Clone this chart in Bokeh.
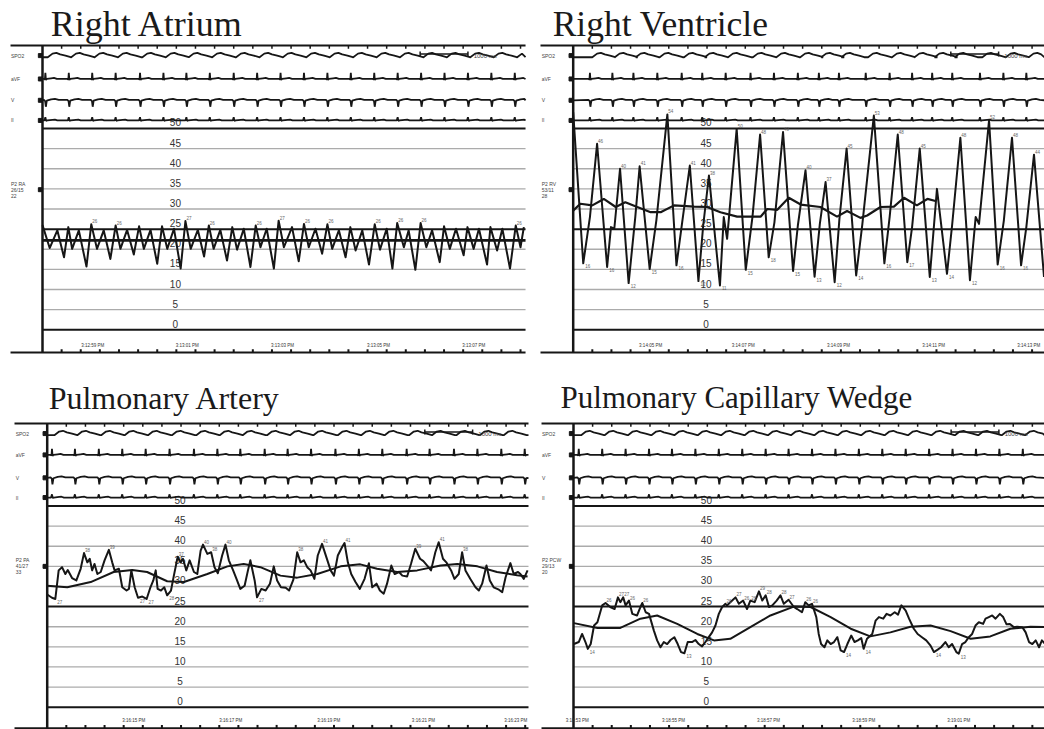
import numpy as np
from bokeh.plotting import figure
from bokeh.layouts import column, row
from bokeh.models import Range1d, Label
from bokeh.core.properties import value
from bokeh.embed import file_html
from bokeh.resources import INLINE

# ------------------------------------------------------------------ data
titles = ["Right Atrium", "Right Ventricle", "Pulmonary Artery", "Pulmonary Capillary Wedge"]
channel_names = ["SPO2", "aVF", "V", "II"]
pressure_labels = [["P2 RA", "26/15", "22"], ["P2 RV", "53/11", "28"],
                   ["P2 PA", "41/27", "33"], ["P2 PCW", "29/13", "20"]]
scale_ticks = [0, 5, 10, 15, 20, 25, 30, 35, 40, 45, 50]
bold_ticks = [0, 25, 50]

time_labels = [
    ["3:12:59 PM", "3:13:01 PM", "3:13:03 PM", "3:13:05 PM", "3:13:07 PM"],
    ["3:14:05 PM", "3:14:07 PM", "3:14:09 PM", "3:14:11 PM", "3:14:13 PM"],
    ["3:16:15 PM", "3:16:17 PM", "3:16:19 PM", "3:16:21 PM", "3:16:23 PM"],
    ["3:18:53 PM", "3:18:55 PM", "3:18:57 PM", "3:18:59 PM", "3:19:01 PM"],
]
time_label_t = [
    [1.05, 3.03, 5.02, 7.03, 9.02],
    [1.62, 3.56, 5.55, 7.54, 9.53],
    [1.81, 3.84, 5.89, 7.87, 9.80],
    [0.08, 2.09, 4.08, 6.07, 8.06],
]

# beat times (s) read from the aVF / II spikes
beats_ra = [0.06, 0.55, 1.04, 1.53, 2.04, 2.53, 3.01, 3.50, 4.00, 4.49, 4.98, 5.47,
            5.96, 6.45, 6.94, 7.43, 7.92, 8.41, 8.90, 9.39, 9.88]
beats_rv = [0.35, 0.82, 1.26, 1.76, 2.27, 2.70, 3.19, 3.71, 4.20, 4.70, 5.14, 5.56,
            6.12, 6.62, 7.09, 7.51, 7.93, 8.51, 9.00, 9.48]
beats_pa = [0.10, 0.58, 1.08, 1.57, 2.06, 2.56, 3.07, 3.56, 4.04, 4.55, 5.03, 5.52,
            6.03, 6.52, 7.01, 7.52, 8.00, 8.51, 9.00, 9.50, 9.99]
beats_pcw = [0.11, 0.60, 1.09, 1.58, 2.06, 2.55, 3.04, 3.53, 4.02, 4.50, 4.99, 5.48,
             5.97, 6.46, 6.95, 7.44, 7.93, 8.42, 8.91, 9.40]

# one beat of each monitor lead (offset s, deflection)
spo2_dt = [0.05, 0.15, 0.23, 0.31, 0.42, 0.53]
spo2_a = [-0.4, 0.5, 0.7, 0.3, 0.0, -0.4]
avf_dt = [-0.03, -0.01, 0.0, 0.012, 0.03, 0.12, 0.18, 0.24]
avf_a = [0.0, -0.15, 1.5, -0.25, 0.0, 0.15, 0.25, 0.0]
v_dt = [-0.03, -0.005, 0.01, 0.03, 0.12, 0.20, 0.28]
v_a = [0.1, -0.2, -1.6, -0.1, 0.25, 0.35, 0.1]
ii_dt = [-0.02, 0.0, 0.015, 0.04, 0.15, 0.20, 0.25]
ii_a = [0.0, 0.8, -0.1, 0.0, 0.15, 0.2, 0.0]

# Right atrium pressure (s, mmHg)
ra_t = [0.00, 0.15, 0.31, 0.45, 0.54, 0.62, 0.76, 0.92, 1.02, 1.14, 1.28, 1.42, 1.53, 1.63,
        1.77, 1.91, 2.02, 2.12, 2.26, 2.40, 2.50, 2.61, 2.75, 2.89, 2.99, 3.10, 3.25, 3.38,
        3.48, 3.58, 3.72, 3.86, 3.97, 4.07, 4.21, 4.35, 4.46, 4.56, 4.69, 4.84, 4.94, 5.05,
        5.22, 5.36, 5.47, 5.57, 5.71, 5.85, 5.96, 6.06, 6.20, 6.34, 6.44, 6.55, 6.69, 6.83,
        6.95, 7.06, 7.20, 7.32, 7.42, 7.56, 7.66, 7.80, 7.91, 8.03, 8.15, 8.31, 8.40, 8.52,
        8.65, 8.81, 8.89, 9.02, 9.13, 9.30, 9.37, 9.51, 9.62, 9.78, 9.90, 10.00, 10.07]
ra_p = [26.0, 20.3, 24.7, 18.0, 25.5, 20.1, 24.7, 15.7, 26.2, 20.1, 24.7, 17.6, 25.9, 20.1,
        24.8, 18.7, 25.7, 20.1, 24.8, 16.4, 25.7, 20.1, 25.1, 15.2, 27.0, 20.1, 24.8, 18.2,
        25.9, 20.1, 24.8, 17.2, 25.5, 19.9, 25.1, 15.6, 25.9, 20.5, 25.1, 15.2, 27.1, 20.5,
        25.5, 17.0, 26.3, 20.5, 25.1, 18.9, 26.2, 20.1, 24.7, 18.0, 25.5, 19.7, 24.7, 16.2,
        26.2, 19.9, 25.1, 15.2, 26.5, 20.5, 24.7, 14.9, 26.5, 20.5, 24.7, 16.8, 25.7, 20.1,
        25.1, 18.5, 25.5, 20.1, 25.1, 16.2, 25.5, 19.7, 25.1, 15.2, 25.9, 20.5, 25.5]
ra_mean_t = [0.0, 10.105]
ra_mean_p = [22.2, 22.2]

# Right ventricle pressure
rv_t = [0.00, 0.21, 0.35, 0.50, 0.71, 0.79, 0.86, 0.98, 1.16, 1.30, 1.39, 1.60, 1.74, 1.97,
        2.16, 2.28, 2.44, 2.62, 2.72, 2.84, 3.07, 3.15, 3.22, 3.42, 3.61, 3.75, 3.91, 4.09,
        4.21, 4.39, 4.60, 4.70, 4.86, 5.05, 5.16, 5.28, 5.47, 5.57, 5.72, 5.92, 6.05, 6.29,
        6.51, 6.62, 6.79, 6.99, 7.09, 7.25, 7.46, 7.61, 7.82, 7.93, 8.10, 8.30, 8.42, 8.49,
        8.70, 8.88, 9.01, 9.18, 9.37, 9.48, 9.64, 9.85]
rv_p = [54.0, 16.5, 28.0, 46.2, 15.6, 25.5, 25.1, 40.0, 11.6, 28.1, 40.6, 15.1, 27.2, 53.5,
        16.0, 26.7, 40.8, 12.1, 25.9, 38.3, 11.0, 28.0, 22.6, 49.9, 14.9, 28.0, 48.5, 18.0,
        26.7, 49.1, 14.6, 25.9, 39.6, 13.2, 26.3, 36.7, 11.8, 27.6, 45.0, 13.5, 26.3, 53.2,
        16.5, 28.0, 48.5, 16.8, 25.5, 45.0, 13.1, 35.0, 13.9, 26.3, 47.7, 12.3, 28.0, 26.3,
        52.0, 16.2, 27.2, 47.7, 16.0, 25.5, 43.5, 13.1]
rv_mean_t = [0.00, 0.15, 0.40, 0.64, 0.89, 1.09, 1.34, 1.62, 1.83, 2.11, 2.53, 2.80, 3.08,
             3.43, 3.92, 4.06, 4.27, 4.51, 4.76, 5.17, 5.52, 5.73, 6.01, 6.15, 6.43, 6.71,
             6.92, 7.19, 7.41, 7.58]
rv_mean_p = [29.6, 31.3, 30.9, 32.5, 30.5, 31.7, 30.5, 29.2, 29.2, 30.9, 30.6, 30.5, 29.2,
             28.1, 28.1, 30.0, 29.8, 32.8, 31.1, 30.5, 28.1, 29.5, 27.8, 28.4, 30.5, 30.6,
             32.8, 30.9, 32.5, 32.0]

# Pulmonary artery pressure
pa_t = [0.00, 0.10, 0.17, 0.24, 0.31, 0.38, 0.43, 0.52, 0.61, 0.70, 0.77, 0.84, 0.89, 0.94,
        0.99, 1.05, 1.12, 1.20, 1.29, 1.36, 1.41, 1.50, 1.57, 1.66, 1.71, 1.76, 1.83, 1.90,
        1.99, 2.08, 2.16, 2.22, 2.27, 2.31, 2.38, 2.45, 2.51, 2.59, 2.65, 2.73, 2.79, 2.84,
        2.91, 2.98, 3.07, 3.14, 3.21, 3.26, 3.35, 3.43, 3.50, 3.57, 3.66, 3.73, 3.80, 3.89,
        3.96, 4.04, 4.13, 4.20, 4.25, 4.34, 4.39, 4.48, 4.57, 4.66, 4.74, 4.81, 4.89, 4.99,
        5.06, 5.15, 5.23, 5.30, 5.37, 5.44, 5.51, 5.59, 5.66, 5.75, 5.84, 5.93, 6.00, 6.08,
        6.17, 6.22, 6.29, 6.36, 6.45, 6.54, 6.64, 6.73, 6.80, 6.89, 6.96, 7.04, 7.11, 7.20,
        7.27, 7.36, 7.43, 7.53, 7.61, 7.70, 7.80, 7.87, 7.95, 8.03, 8.12, 8.19, 8.28, 8.35,
        8.45, 8.52, 8.61, 8.68, 8.75, 8.85, 8.96, 9.03, 9.10, 9.19, 9.26, 9.34, 9.45, 9.52,
        9.59, 9.69, 9.76, 9.85, 9.90, 9.97, 10.05]
pa_p = [28.0, 27.2, 26.9, 34.0, 34.8, 33.1, 34.1, 32.1, 31.5, 34.4, 38.3, 36.0, 36.9, 34.0,
        35.6, 33.1, 33.6, 36.5, 39.1, 36.0, 34.0, 34.4, 29.8, 29.0, 29.4, 34.0, 29.8, 27.2,
        27.5, 26.9, 29.8, 31.5, 34.0, 29.4, 29.0, 29.8, 27.8, 29.0, 32.7, 37.4, 36.0, 36.9,
        34.0, 36.5, 33.6, 33.1, 38.9, 40.4, 38.1, 38.5, 34.8, 33.3, 37.7, 40.4, 36.5, 34.0,
        31.9, 29.4, 30.2, 34.0, 36.5, 31.5, 27.3, 29.4, 29.0, 30.7, 35.0, 31.5, 29.8, 29.7,
        29.0, 31.7, 38.5, 36.0, 36.5, 34.8, 34.0, 31.9, 37.7, 40.6, 37.3, 34.0, 32.7, 37.7,
        39.8, 40.8, 36.0, 33.1, 31.1, 29.4, 31.9, 35.8, 29.8, 30.7, 29.0, 28.2, 30.7, 35.2,
        33.1, 33.6, 32.7, 32.5, 35.6, 39.4, 36.9, 36.3, 35.2, 34.0, 38.5, 41.0, 36.9, 36.0,
        34.0, 31.9, 33.1, 38.5, 34.0, 31.9, 29.8, 29.0, 30.7, 35.2, 31.5, 29.8, 29.2, 28.6,
        32.3, 35.8, 33.1, 33.6, 33.1, 31.9, 34.0]
pa_mean_t = [0.00, 0.42, 0.91, 1.39, 1.78, 2.09, 2.51, 2.86, 3.35, 3.77, 4.11, 4.46, 4.88,
             5.23, 5.65, 6.14, 6.55, 6.90, 7.32, 7.74, 8.23, 8.58, 9.00, 9.41, 9.83, 10.05]
pa_mean_p = [30.2, 29.8, 31.1, 33.6, 34.1, 33.6, 31.3, 31.1, 33.1, 35.0, 35.6, 34.8, 32.7,
             32.2, 33.1, 35.0, 35.5, 34.4, 33.6, 34.0, 35.2, 35.6, 35.0, 33.6, 32.8, 32.5]

# Pulmonary capillary wedge pressure
pcw_t = [0.01, 0.11, 0.18, 0.25, 0.30, 0.36, 0.43, 0.50, 0.60, 0.67, 0.77, 0.86, 0.93, 0.98,
         1.04, 1.09, 1.16, 1.23, 1.33, 1.40, 1.44, 1.51, 1.58, 1.68, 1.75, 1.82, 1.89, 1.96,
         2.03, 2.11, 2.18, 2.25, 2.32, 2.39, 2.48, 2.55, 2.62, 2.69, 2.76, 2.83, 2.90, 2.97,
         3.04, 3.11, 3.18, 3.21, 3.32, 3.39, 3.46, 3.55, 3.63, 3.70, 3.79, 3.88, 3.95, 4.02,
         4.09, 4.16, 4.25, 4.33, 4.40, 4.50, 4.61, 4.68, 4.78, 4.85, 4.92, 4.99, 5.08, 5.13,
         5.18, 5.25, 5.31, 5.38, 5.45, 5.52, 5.59, 5.66, 5.73, 5.81, 5.88, 5.95, 6.02, 6.07,
         6.14, 6.25, 6.32, 6.39, 6.48, 6.55, 6.63, 6.72, 6.79, 6.86, 6.95, 7.02, 7.12, 7.20,
         7.29, 7.38, 7.47, 7.54, 7.62, 7.69, 7.78, 7.85, 7.92, 8.01, 8.06, 8.13, 8.20, 8.27,
         8.34, 8.41, 8.48, 8.57, 8.62, 8.69, 8.76, 8.83, 8.92, 8.99, 9.06, 9.13, 9.21, 9.28,
         9.39, 9.46, 9.53, 9.60, 9.67, 9.74, 9.80, 9.87]
pcw_p = [15.7, 16.2, 18.2, 16.2, 14.5, 15.7, 20.3, 21.1, 25.3, 25.9, 24.9, 24.4, 27.3, 26.1,
         27.3, 25.3, 26.5, 23.2, 22.8, 24.9, 25.9, 23.6, 23.2, 19.1, 16.6, 14.9, 16.2, 15.7,
         16.7, 17.4, 15.7, 13.7, 13.4, 16.2, 16.2, 16.7, 15.7, 15.1, 16.2, 17.4, 18.6, 20.3,
         23.2, 24.9, 25.7, 25.3, 26.5, 27.3, 25.7, 26.5, 24.4, 26.5, 26.1, 28.8, 26.5, 27.8,
         24.9, 25.3, 26.5, 27.8, 25.7, 26.7, 24.9, 24.4, 23.6, 26.1, 25.3, 25.7, 22.4, 18.2,
         15.7, 14.9, 16.6, 15.7, 16.2, 17.4, 14.1, 13.7, 15.7, 17.8, 16.2, 16.6, 17.2, 14.5,
         17.0, 18.2, 21.5, 22.4, 22.0, 23.2, 22.8, 23.6, 23.0, 25.3, 24.0, 22.0, 19.5, 18.2,
         17.4, 16.6, 15.3, 13.7, 14.3, 14.9, 16.2, 14.9, 15.7, 13.7, 13.3, 15.7, 16.2, 17.4,
         18.2, 20.3, 21.1, 20.7, 22.0, 22.4, 22.8, 22.0, 23.2, 22.4, 20.6, 20.7, 19.9, 20.0,
         19.9, 18.6, 16.2, 15.7, 16.6, 14.9, 16.6, 15.7]
pcw_mean_t = [0.01, 0.50, 0.98, 1.40, 1.75, 2.17, 2.59, 2.94, 3.28, 3.70, 4.12, 4.61, 4.96,
              5.38, 5.80, 6.21, 6.63, 7.05, 7.47, 7.89, 8.31, 8.72, 9.14, 9.56, 9.87]
pcw_mean_p = [20.9, 19.7, 19.7, 22.0, 22.8, 20.7, 18.2, 16.6, 17.0, 19.9, 22.8, 25.0, 24.9,
              22.4, 19.5, 17.6, 18.6, 20.0, 20.3, 18.9, 17.0, 17.6, 19.5, 20.0, 19.9]

cal_start, cal_len, cal_text = 7.9, 1.0, "1000 ms"

# ------------------------------------------------------------------ layout
TOP = dict(h=360, yr=(-7.63, 81.79), ytop=70.6, ybot=-5.64, chan=(68.1, 62.3, 57.0, 52.0),
           title_y=75.9, tl_y=-3.9, plab_y=(36.3, 34.8, 33.3))
BOT = dict(h=369, yr=(-5.54, 86.16), ytop=70.5, ybot=-5.2, chan=(68.0, 62.7, 57.0, 52.1),
           title_y=76.9, tl_y=-3.3, plab_y=(36.5, 35.0, 33.5))

panels = [
    dict(TOP, w=528, xr=(-0.8787, 10.167), lines=(-0.669, 10.105), title_x=0.17, tsize="36px",
         beats=beats_ra, pt=ra_t, pp=ra_p, mt=ra_mean_t, mp=ra_mean_p, mw=2.6,
         hi=25.8, lo=None),
    dict(TOP, w=516, xr=(-0.935, 9.860), lines=(-0.684, 9.860), title_x=-0.43, tsize="35.5px",
         beats=beats_rv, pt=rv_t, pp=rv_p, mt=rv_mean_t, mp=rv_mean_p, mw=2.2,
         hi=35.5, lo=19.0),
    dict(BOT, w=530, xr=(-0.977, 10.111), lines=(-0.684, 10.069), title_x=0.03, tsize="32px",
         beats=beats_pa, pt=pa_t, pp=pa_p, mt=pa_mean_t, mp=pa_mean_p, mw=2.0,
         hi=37.0, lo=28.0),
    dict(BOT, w=514, xr=(-0.8996, 9.854), lines=(-0.669, 9.854), title_x=-0.27, tsize="31px",
         beats=beats_pcw, pt=pcw_t, pp=pcw_p, mt=pcw_mean_t, mp=pcw_mean_p, mw=2.0,
         hi=25.5, lo=14.5),
]

INK = "#161616"
GRID = "#ababab"
SANS = value("Liberation Sans")


def lead(beats, dts, amps, base, t0, t1, cont=False):
    xs, ys = [t0], [base + (amps[0] if cont else 0.0)]
    for b in beats:
        for d, a in zip(dts, amps):
            t = b + d
            if t0 < t < t1:
                xs.append(t)
                ys.append(base + a)
    xs.append(t1)
    ys.append(base + (amps[0] if cont else 0.0))
    return xs, ys


def extrema(ts, ps, hi, lo):
    mx, mn = ([], []), ([], [])
    for k in range(1, len(ps) - 1):
        if ps[k] >= ps[k - 1] and ps[k] >= ps[k + 1] and hi is not None and ps[k] >= hi:
            mx[0].append(ts[k]); mx[1].append(ps[k])
        if ps[k] <= ps[k - 1] and ps[k] <= ps[k + 1] and lo is not None and ps[k] <= lo:
            mn[0].append(ts[k]); mn[1].append(ps[k])
    return mx, mn


def make_panel(i, cfg):
    p = figure(width=cfg["w"], height=cfg["h"], x_range=Range1d(*cfg["xr"]),
               y_range=Range1d(*cfg["yr"]), output_backend="svg", toolbar_location=None,
               x_axis_type=None, y_axis_type=None, title=None, min_border=0)
    p.outline_line_color = None
    p.background_fill_color = "white"
    p.border_fill_color = "white"
    l0, l1 = cfg["lines"]
    ytop, ybot = cfg["ytop"], cfg["ybot"]

    # title
    p.add_layout(Label(x=cfg["title_x"], y=cfg["title_y"], text=titles[i],
                       text_font="Liberation Serif", text_font_size=cfg["tsize"],
                       text_color="#1a1a1a", text_baseline="alphabetic"))

    # scale gridlines and labels
    thin = [v for v in scale_ticks if v not in bold_ticks]
    p.segment(x0=[0] * len(thin), x1=[l1] * len(thin), y0=thin, y1=thin,
              line_color=GRID, line_width=1.3)
    p.text(x=[2.78] * len(scale_ticks), y=scale_ticks, text=[str(v) for v in scale_ticks],
           text_font=SANS, text_font_size="10px", text_color="#333333",
           text_align="center", text_baseline="middle", y_offset=-6)
    p.segment(x0=[0] * len(bold_ticks), x1=[l1] * len(bold_ticks), y0=bold_ticks,
              y1=bold_ticks, line_color=INK, line_width=2)

    # frame lines
    p.segment(x0=[l0, l0], x1=[l1, l1], y0=[ytop, ybot], y1=[ytop, ybot],
              line_color=INK, line_width=2)
    p.segment(x0=[0], x1=[0], y0=[ybot], y1=[ytop], line_color=INK, line_width=2.5)
    ticks = np.arange(0.4, l1, 0.4)
    p.segment(x0=ticks, x1=ticks, y0=[ytop] * len(ticks), y1=[ytop - 0.8] * len(ticks),
              line_color=INK, line_width=1.5)
    p.segment(x0=ticks, x1=ticks, y0=[ybot] * len(ticks), y1=[ybot + 0.8] * len(ticks),
              line_color=INK, line_width=2)

    # time labels
    p.text(x=time_label_t[i], y=[cfg["tl_y"]] * len(time_labels[i]), text=time_labels[i],
           text_font=SANS, text_font_size="4.5px", text_color="#333333",
           text_align="center", text_baseline="middle")

    # channel labels and markers
    ch = list(cfg["chan"])
    p.text(x=[-0.66] * 4, y=ch, text=channel_names, text_font=SANS,
           text_font_size="5px", text_color="#444444", text_baseline="middle")
    p.text(x=[-0.66] * 3, y=list(cfg["plab_y"]), text=pressure_labels[i], text_font=SANS,
           text_font_size="5px", text_color="#444444", text_baseline="middle")
    p.scatter(x=[-0.045] * 5, y=ch + [cfg["plab_y"][1]], marker="square", size=4,
              color=INK)

    # monitor leads
    t0, t1 = 0.0, l1
    b = cfg["beats"]
    for base, dts, amps, cont in zip(ch, [spo2_dt, avf_dt, v_dt, ii_dt],
                                     [spo2_a, avf_a, v_a, ii_a], [True, False, False, False]):
        xs, ys = lead(b, dts, amps, base, t0, t1, cont)
        p.line(xs, ys, line_color=INK, line_width=1.8)

    # 1000 ms calibration
    cy = ch[0] + 0.4
    p.segment(x0=[cal_start, cal_start, cal_start + cal_len],
              x1=[cal_start + cal_len, cal_start, cal_start + cal_len],
              y0=[cy, cy - 0.6, cy - 0.6], y1=[cy, cy + 0.6, cy + 0.6],
              line_color=INK, line_width=1.5)
    p.text(x=[cal_start + cal_len + 0.12], y=[cy - 0.4], text=[cal_text], text_font=SANS,
           text_font_size="6px", text_color="#444444", text_baseline="middle")

    # pressure trace and mean
    p.line(cfg["mt"], cfg["mp"], line_color=INK, line_width=cfg["mw"])
    p.line(cfg["pt"], cfg["pp"], line_color=INK, line_width=2, line_join="round")

    # small value annotations at the extremes of the trace
    (mxt, mxp), (mnt, mnp) = extrema(cfg["pt"], cfg["pp"], cfg["hi"], cfg["lo"])
    p.text(x=mxt, y=mxp, text=[str(int(round(v))) for v in mxp], text_font=SANS,
           text_font_size="4.5px", text_color="#666666", text_align="left",
           text_baseline="bottom", x_offset=1, y_offset=-1)
    p.text(x=mnt, y=mnp, text=[str(int(round(v))) for v in mnp], text_font=SANS,
           text_font_size="4.5px", text_color="#666666", text_align="left",
           text_baseline="top", x_offset=2, y_offset=1)
    return p


figs = [make_panel(i, c) for i, c in enumerate(panels)]
layout = column(row(figs[0], figs[1]), row(figs[2], figs[3]))
open("out.html", "w").write(file_html(layout, INLINE))
